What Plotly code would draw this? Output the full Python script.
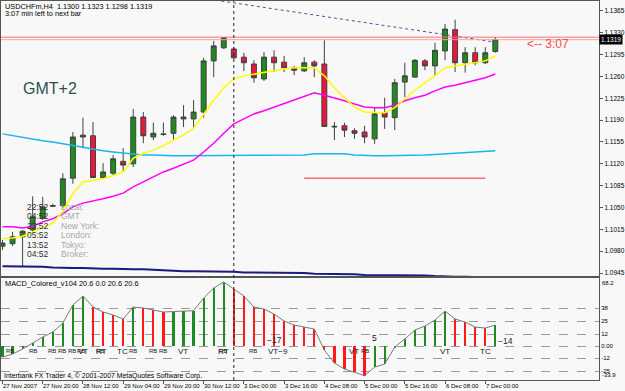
import plotly.graph_objects as go

# ---------------- data ----------------
bar_index = list(range(50))
tick_bars = list(range(0, 49, 4))
tick_labels = ["27 Nov 2007", "27 Nov 20:00", "28 Nov 12:00", "29 Nov 04:00",
               "29 Nov 20:00", "30 Nov 12:00", "3 Dec 00:00", "3 Dec 16:00",
               "4 Dec 08:00", "5 Dec 00:00", "5 Dec 16:00", "6 Dec 08:00", "7 Dec 00:00"]
price_ticks = [1.1365, 1.1330, 1.1295, 1.1260, 1.1225, 1.1190, 1.1155,
               1.1120, 1.1085, 1.1050, 1.1015, 1.0980, 1.0945]

open_ = [1.0988, 1.0992, 1.1003, 1.1014, 1.1033, 1.1052, 1.1053, 1.1097, 1.1163, 1.1165,
         1.1098, 1.1105, 1.1124, 1.1120, 1.1195, 1.1163, 1.1168, 1.1169, 1.1195, 1.1192,
         1.1203, 1.1285, 1.1306, 1.1304, 1.1291, 1.1280, 1.1256, 1.1291, 1.1283, 1.1274,
         1.1269, 1.1283, 1.1280, 1.1179, 1.1181, 1.1173, 1.1171, 1.1160, 1.1202, 1.1194,
         1.1251, 1.1259, 1.1285, 1.1277, 1.1301, 1.1335, 1.1282, 1.1298, 1.1282, 1.1300]
high = [1.0998, 1.1011, 1.1014, 1.1068, 1.1067, 1.1056, 1.1105, 1.1171, 1.1194, 1.1187,
        1.1121, 1.1134, 1.1145, 1.1208, 1.1203, 1.1186, 1.1186, 1.1198, 1.1214, 1.1222,
        1.1290, 1.1317, 1.1323, 1.1307, 1.1298, 1.1286, 1.1299, 1.1302, 1.1293, 1.1277,
        1.1291, 1.1286, 1.1318, 1.1187, 1.1186, 1.1177, 1.1181, 1.1210, 1.1226, 1.1256,
        1.1282, 1.1288, 1.1288, 1.1314, 1.1344, 1.1351, 1.1307, 1.1307, 1.1307, 1.1323]
low = [1.0982, 1.0988, 1.0955, 1.1011, 1.1030, 1.1051, 1.1049, 1.1088, 1.1145, 1.1097,
       1.1096, 1.1102, 1.1107, 1.1115, 1.1153, 1.1158, 1.1165, 1.1158, 1.1179, 1.1177,
       1.1194, 1.1259, 1.1304, 1.1288, 1.1269, 1.1250, 1.1253, 1.1267, 1.1267, 1.1262,
       1.1267, 1.1259, 1.1179, 1.1158, 1.1163, 1.1160, 1.1153, 1.1152, 1.1176, 1.1174,
       1.1227, 1.1258, 1.1270, 1.1262, 1.1286, 1.1267, 1.1266, 1.1278, 1.1280, 1.1298]
close = [1.0993, 1.1003, 1.1012, 1.1035, 1.1051, 1.1053, 1.1096, 1.1163, 1.1166, 1.1098,
         1.1107, 1.1128, 1.1118, 1.1195, 1.1165, 1.1169, 1.1167, 1.1195, 1.1192, 1.1203,
         1.1285, 1.1309, 1.1322, 1.1290, 1.1282, 1.1258, 1.1291, 1.1282, 1.1274, 1.1270,
         1.1282, 1.1277, 1.1180, 1.1180, 1.1174, 1.1169, 1.1163, 1.1200, 1.1195, 1.1250,
         1.1261, 1.1286, 1.1277, 1.1302, 1.1336, 1.1282, 1.1298, 1.1282, 1.1298, 1.1319]

ma_yellow = [1.1000, 1.1001, 1.1004, 1.1011, 1.1017, 1.1025, 1.1044, 1.1072, 1.1091, 1.1093,
             1.1096, 1.1101, 1.1107, 1.1129, 1.1137, 1.1142, 1.1149, 1.1158, 1.1166, 1.1177,
             1.1200, 1.1222, 1.1242, 1.1256, 1.1261, 1.1264, 1.1267, 1.1269, 1.1272, 1.1274,
             1.1274, 1.1274, 1.1261, 1.1242, 1.1226, 1.1211, 1.1203, 1.1202, 1.1202, 1.1210,
             1.1224, 1.1238, 1.1250, 1.1261, 1.1274, 1.1277, 1.1280, 1.1282, 1.1285, 1.1293]
ma_magenta = [1.1019, 1.1019, 1.1017, 1.1020, 1.1027, 1.1032, 1.1040, 1.1051, 1.1057, 1.1060,
              1.1064, 1.1068, 1.1073, 1.1083, 1.1091, 1.1099, 1.1107, 1.1113, 1.1120, 1.1126,
              1.1139, 1.1153, 1.1169, 1.1184, 1.1192, 1.1200, 1.1205, 1.1211, 1.1216, 1.1222,
              1.1229, 1.1234, 1.1230, 1.1226, 1.1221, 1.1216, 1.1211, 1.1210, 1.1210, 1.1214,
              1.1221, 1.1226, 1.1230, 1.1237, 1.1243, 1.1246, 1.1250, 1.1253, 1.1258, 1.1264]
ma_skyblue = [1.1168, 1.1165, 1.1163, 1.1160, 1.1157, 1.1155, 1.1152, 1.1149, 1.1147, 1.1144,
              1.1141, 1.1139, 1.1137, 1.1136, 1.1134, 1.1134, 1.1133, 1.1133, 1.1133, 1.1133,
              1.1133, 1.1134, 1.1134, 1.1134, 1.1134, 1.1134, 1.1134, 1.1134, 1.1134, 1.1134,
              1.1134, 1.1136, 1.1136, 1.1136, 1.1136, 1.1134, 1.1133, 1.1133, 1.1133, 1.1133,
              1.1133, 1.1133, 1.1134, 1.1135, 1.1136, 1.1137, 1.1137, 1.1138, 1.1139, 1.1141]
ma_navy = [1.0956, 1.0956, 1.0956, 1.0955, 1.0955, 1.0954, 1.0953, 1.0953, 1.0953, 1.0952,
           1.0952, 1.0952, 1.0951, 1.0951, 1.0951, 1.0950, 1.0950, 1.0949, 1.0948, 1.0948,
           1.0948, 1.0948, 1.0947, 1.0947, 1.0946, 1.0946, 1.0946, 1.0945, 1.0945, 1.0945,
           1.0945, 1.0944, 1.0944, 1.0943, 1.0943, 1.0943, 1.0942, 1.0942, 1.0941, 1.0941,
           1.0941, 1.0941, 1.0941, 1.0940, 1.0939, 1.0939, 1.0939, 1.0938, 1.0938, 1.0938]

macd = [-11, -8, -3, 3, 9, 14, 23, 41, 50, 39,
        34, 31, 27, 39, 38, 36, 34, 34.5, 35, 35.3,
        48, 58, 64, 57, 50, 39, 37, 32, 25, 21,
        19, 17, -4, -17, -23, -26, -29.5, -21, -18, -1,
        7, 16, 20, 26, 35, 27, 24, 19, 18, 21]
macd_levels = [38, 25, 12, 0, -12, -25]
macd_level_text = ["38", "25", "12", "0.00", "-12", "-25"]
macd_max, macd_min = 68.2, -33.9

bid, ask = 1.1319, 1.1323
trend_bars = [21.75, 49]
trend_prices = [1.1381, 1.1315]
level_bars = [30, 48]
level_price = 1.1097
separator_bar = 23

macd_marks = [  # text, bar, value, size
    ("RB", 0.74, -5, 6), ("RB", 3.02, -5, 6), ("RB", 4.91, -5, 6), ("RB", 5.90, -5, 6),
    ("RB", 6.89, -5, 6), ("RB", 7.78, -5, 6), ("VT", 7.98, -5.5, 8),
    ("RB", 9.66, -5, 6), ("RT", 9.86, -5.5, 8), ("TC", 11.94, -5.5, 8), ("RB", 12.93, -5, 6),
    ("RB", 14.92, -5, 6), ("RB", 15.91, -5, 6), ("VT", 17.99, -5.5, 8),
    ("RB", 21.95, -5, 6), ("RT", 21.95, -5.5, 8), ("RB", 24.93, -5, 6),
    ("VT\u22129", 27.40, -5.5, 8), ("\u221217", 27.0, 6.1, 8.5),
    ("VT", 34.94, -5.5, 8), ("RB", 36.03, -5, 6), ("5", 37.02, 8.1, 8.5),
    ("VT", 43.95, -5.5, 8), ("TC", 48.02, -5.5, 8), ("\u221214", 50.0, 5.1, 8.5),
]
clock_rows = [("22:52", "Local:"), ("04:52", "GMT"), ("23:52", "New York:"),
              ("05:52", "London:"), ("13:52", "Tokyo:"), ("04:52", "Broker:")]

# ---------------- figure ----------------
W, Hh = 625, 391
FONT = "Liberation Sans, Arial, sans-serif"
def px_x(x): return x / W
def px_y(y): return 1 - y / Hh

x_range = [-0.149, 59.316]
main_range = [1.09402, 1.13810]

fig = go.Figure()

fig.add_trace(go.Candlestick(
    x=bar_index, open=open_, high=high, low=low, close=close,
    increasing=dict(fillcolor="#1f8a1f", line=dict(color="#404040", width=1)),
    decreasing=dict(fillcolor="#e8173c", line=dict(color="#404040", width=1)),
    whiskerwidth=0, xaxis="x", yaxis="y", hoverinfo="skip"))

for vals, col, w in [(ma_navy, "#1a1a80", 2), (ma_skyblue, "#19b5f0", 1.5),
                     (ma_magenta, "#ff00ff", 1.5), (ma_yellow, "#ffff00", 1.5)]:
    fig.add_trace(go.Scatter(x=bar_index, y=vals, mode="lines",
                             line=dict(color=col, width=w), xaxis="x", yaxis="y",
                             hoverinfo="skip"))

fig.add_trace(go.Scatter(x=trend_bars, y=trend_prices, mode="lines",
                         line=dict(color="#5050a0", width=1, dash="dot"),
                         xaxis="x", yaxis="y", hoverinfo="skip"))
fig.add_trace(go.Scatter(x=level_bars, y=[level_price, level_price], mode="lines",
                         line=dict(color="#ff2020", width=1),
                         xaxis="x", yaxis="y", hoverinfo="skip"))

colors = []
for i, v in enumerate(macd):
    colors.append("#1f8a1f" if i == 0 or v > macd[i - 1] else "#ff1a1a")
fig.add_trace(go.Bar(x=bar_index, y=macd, width=0.22, marker=dict(color=colors, line=dict(width=0)),
                     xaxis="x2", yaxis="y2", hoverinfo="skip"))
fig.add_trace(go.Scatter(x=bar_index, y=macd, mode="lines",
                         line=dict(color="#7a7a7a", width=1), xaxis="x2", yaxis="y2",
                         hoverinfo="skip"))

shapes = [
    dict(type="line", xref="paper", x0=px_x(1), x1=px_x(601), yref="y", y0=ask, y1=ask,
         line=dict(color="#ff7070", width=1)),
    dict(type="line", xref="paper", x0=px_x(1), x1=px_x(601), yref="y", y0=bid, y1=bid,
         line=dict(color="#ffa0a0", width=1)),
    dict(type="line", xref="x", x0=separator_bar, x1=separator_bar, yref="paper",
         y0=px_y(380), y1=px_y(1), line=dict(color="#202020", width=1, dash="dot")),
]

ann = []
def text(x, y, s, size, color="#000000", xanchor="left", xref="paper", yref="paper", **kw):
    ann.append(dict(x=x, y=y, xref=xref, yref=yref, text=s, showarrow=False,
                    xanchor=xanchor, yanchor="middle", font=dict(size=size, color=color, family=FONT),
                    **kw))

text(px_x(3), px_y(6.5), "USDCHFm,H4  1.1300 1.1323 1.1298 1.1319", 7.3)
text(px_x(3), px_y(14), "3:07 min left to next bar", 7.3)
text(px_x(21), px_y(88), "GMT+2", 16, color="#2F5050")
text(52.0, 1.1312, "&lt;-- 3:07", 12, color="#ff4a4a", xref="x", yref="y")
for k, (t, lab) in enumerate(clock_rows):
    yy = px_y(207 + 9.4 * k)
    text(px_x(51), yy, t, 8.5, color="#303030", xanchor="right")
    text(px_x(59), yy, lab, 8.5, color="#a8a8a8")
text(px_x(3), px_y(283), "MACD_Colored_v104 20.6 0.0 20.6 20.6", 7.4)
text(px_x(2), px_y(376), "Interbank FX Trader 4, \u00a9 2001-2007 MetaQuotes Software Corp.", 6.9)
for b, lab in zip(tick_bars, tick_labels):
    text(b, px_y(385.5), lab, 6.0, xref="x", xshift=-1.5)
for s, b, v, sz in macd_marks:
    ann.append(dict(x=b, y=v, xref="x2", yref="y2", text=s, showarrow=False,
                    xanchor="center", yanchor="middle",
                    font=dict(size=sz, color="#202020", family=FONT)))
ann.append(dict(x=px_x(602), y=macd_max, xref="paper", yref="y2", text="68.2", showarrow=False,
                xanchor="left", yanchor="top", font=dict(size=6, color="#000", family=FONT)))
ann.append(dict(x=px_x(602), y=macd_min, xref="paper", yref="y2", text="-33.9", showarrow=False,
                xanchor="left", yanchor="bottom", font=dict(size=6, color="#000", family=FONT)))
ann.append(dict(x=px_x(601), y=bid, xref="paper", yref="y", text="1.1319", showarrow=False,
                xanchor="left", yanchor="middle", bgcolor="#000000", borderpad=1,
                font=dict(size=6.5, color="#ffffff", family=FONT)))

frame = "#555555"
fig.update_layout(
    width=W, height=Hh, margin=dict(l=0, r=0, t=0, b=0),
    paper_bgcolor="#f8f8f8", plot_bgcolor="#f8f8f8", showlegend=False,
    bargap=0, shapes=shapes, annotations=ann,
    xaxis=dict(domain=[px_x(1), px_x(601)], range=x_range, anchor="y",
               showticklabels=False, ticks="", showgrid=False, zeroline=False,
               showline=True, mirror=True, linecolor=frame, linewidth=1,
               rangeslider=dict(visible=False), fixedrange=True),
    yaxis=dict(domain=[px_y(276), px_y(1)], range=main_range, anchor="x", side="right",
               tickvals=price_ticks, ticktext=[f"{p:.4f}" for p in price_ticks],
               ticks="outside", ticklen=3, tickcolor=frame,
               tickfont=dict(size=6.5, color="#000", family=FONT),
               showgrid=False, zeroline=False, showline=True, mirror=True,
               linecolor=frame, linewidth=1),
    xaxis2=dict(domain=[px_x(1), px_x(601)], range=x_range, anchor="y2",
                tickvals=tick_bars, showticklabels=False, ticks="outside", ticklen=3,
                tickcolor=frame, showgrid=False, zeroline=False,
                showline=True, mirror=True, linecolor=frame, linewidth=1),
    yaxis2=dict(domain=[px_y(380), px_y(277.8)], range=[macd_min, macd_max], anchor="x2",
                side="right", tickvals=macd_levels, ticktext=macd_level_text, ticks="",
                tickfont=dict(size=6, color="#000", family=FONT),
                showgrid=True, gridcolor="#9a9a9a", griddash="dash", gridwidth=1,
                zeroline=False, showline=True, mirror=True, linecolor=frame, linewidth=1),
)

fig.write_html("out.html", config={"displayModeBar": False})
